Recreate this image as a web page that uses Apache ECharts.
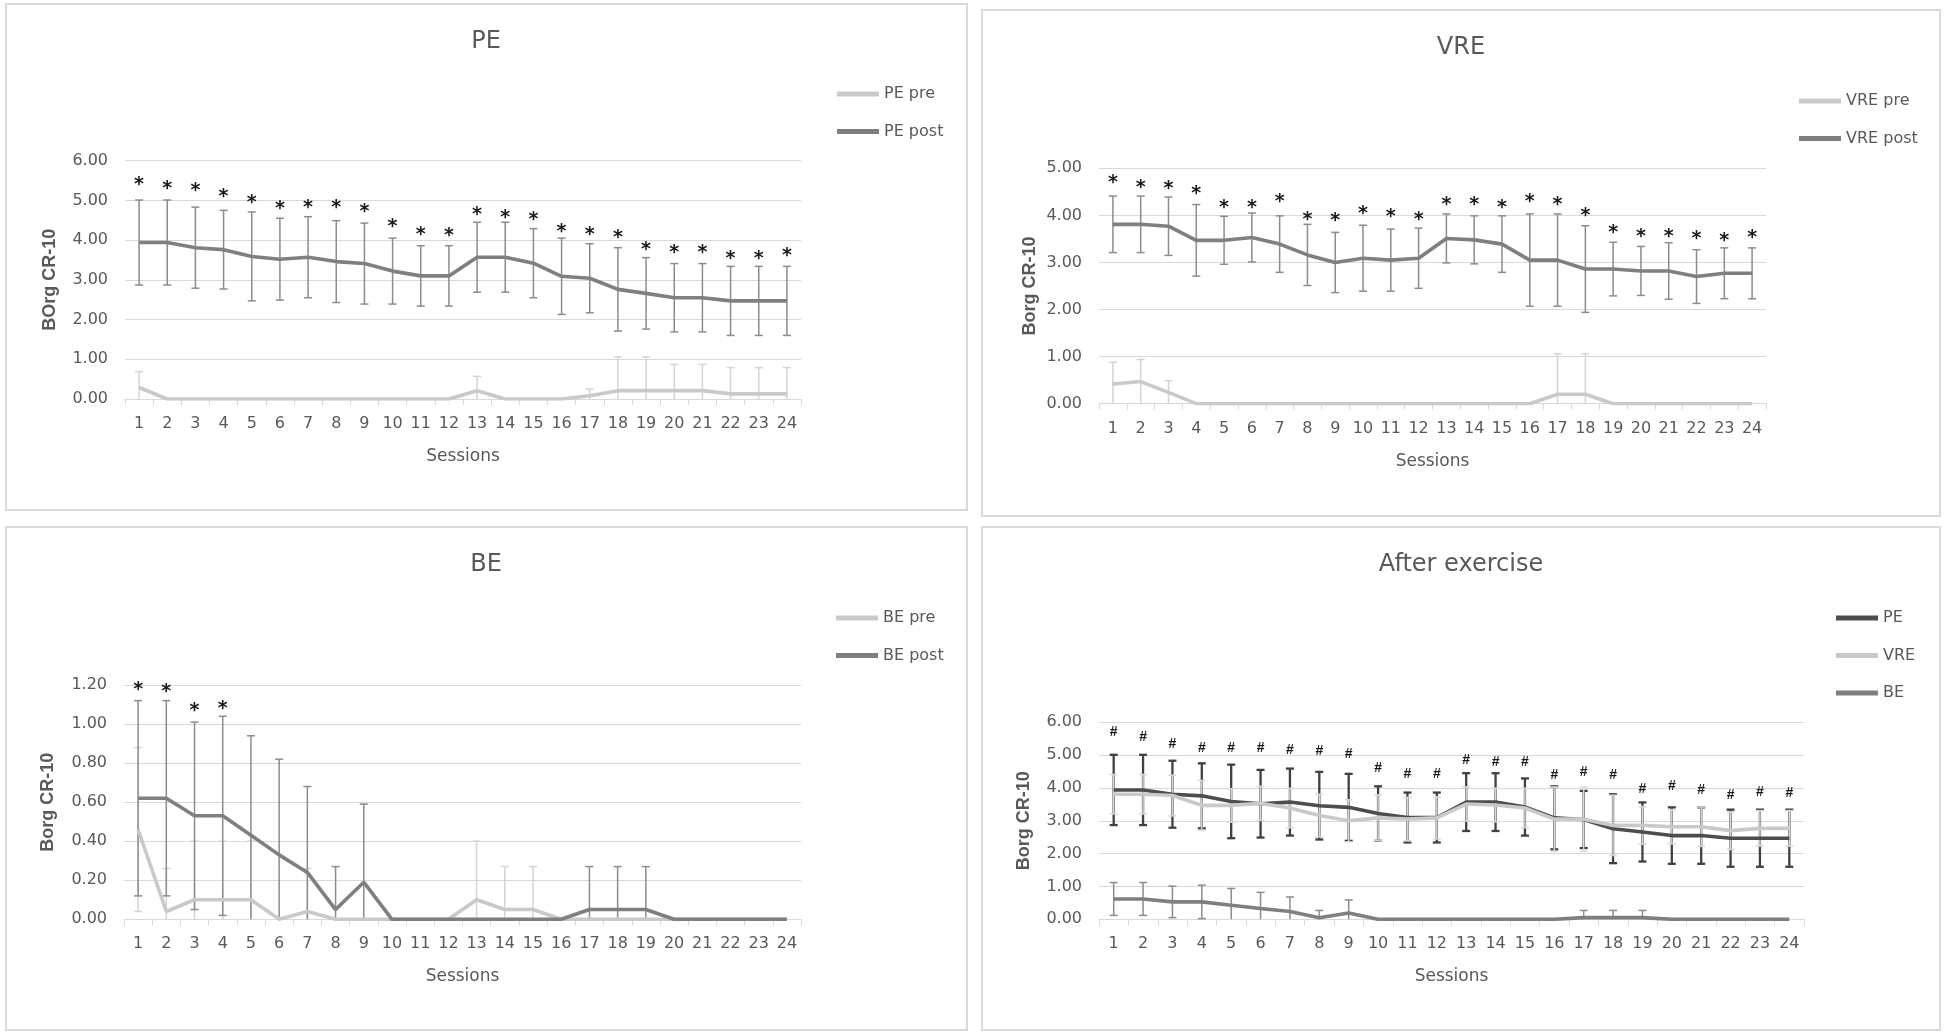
<!DOCTYPE html>
<html lang="en">
<head>
<meta charset="UTF-8">
<title>Borg CR-10 per session</title>
<style>html,body{margin:0;padding:0;background:#fff;}</style>
</head>
<body>
<div id="chart" style="width:1946px;height:1036px;"></div>
<script src="https://cdn.jsdelivr.net/npm/echarts@6/dist/echarts.min.js"></script>
<script>
var sessions = ['1','2','3','4','5','6','7','8','9','10','11','12','13','14','15','16','17','18','19','20','21','22','23','24'];

// means and SD per session
var pePre     = [0.29,0,0,0,0,0,0,0,0,0,0,0,0.21,0,0,0,0.08,0.21,0.21,0.21,0.21,0.13,0.13,0.13];
var pePreSd   = [0.40,0,0,0,0,0,0,0,0,0,0,0,0.36,0,0,0,0.17,0.85,0.85,0.66,0.66,0.66,0.66,0.66];
var pePost    = [3.94,3.94,3.81,3.76,3.59,3.52,3.57,3.46,3.41,3.22,3.10,3.10,3.57,3.57,3.42,3.09,3.04,2.76,2.66,2.55,2.55,2.47,2.47,2.47];
var pePostSd  = [1.07,1.07,1.02,0.99,1.12,1.03,1.02,1.03,1.02,0.83,0.76,0.76,0.88,0.88,0.87,0.96,0.87,1.05,0.90,0.86,0.86,0.87,0.87,0.87];

var vrePre    = [0.42,0.47,0.24,0,0,0,0,0,0,0,0,0,0,0,0,0,0.20,0.20,0,0,0,0,0,0];
var vrePreSd  = [0.46,0.47,0.25,0,0,0,0,0,0,0,0,0,0,0,0,0,0.86,0.86,0,0,0,0,0,0];
var vrePost   = [3.81,3.81,3.77,3.47,3.47,3.53,3.39,3.16,3.00,3.09,3.05,3.09,3.51,3.48,3.39,3.05,3.05,2.86,2.86,2.82,2.82,2.70,2.77,2.77];
var vrePostSd = [0.60,0.60,0.62,0.76,0.51,0.52,0.60,0.65,0.64,0.70,0.66,0.64,0.52,0.51,0.60,0.98,0.98,0.92,0.57,0.52,0.60,0.57,0.54,0.54];

var bePre     = [0.46,0.04,0.10,0.10,0.10,0,0.04,0,0,0,0,0,0.10,0.05,0.05,0,0,0,0,0,0,0,0,0];
var bePreSd   = [0.42,0.22,0.30,0.30,0.30,0,0.22,0,0,0,0,0,0.30,0.22,0.22,0,0,0,0,0,0,0,0,0];
var bePost    = [0.62,0.62,0.53,0.53,0.43,0.33,0.24,0.05,0.19,0,0,0,0,0,0,0,0.05,0.05,0.05,0,0,0,0,0];
var bePostSd  = [0.50,0.50,0.48,0.51,0.51,0.49,0.44,0.22,0.40,0,0,0,0,0,0,0,0.22,0.22,0.22,0,0,0,0,0];

// where the significance marks sit
var peStars   = [5.51,5.41,5.36,5.22,5.07,4.91,4.94,4.94,4.84,4.45,4.25,4.23,4.76,4.69,4.63,4.34,4.25,4.18,3.88,3.80,3.80,3.66,3.66,3.73];
var vreStars  = [4.80,4.68,4.66,4.55,4.26,4.26,4.38,4.01,3.98,4.13,4.06,4.01,4.33,4.33,4.26,4.38,4.33,4.09,3.74,3.65,3.65,3.60,3.56,3.62];
var beStars   = [1.20,1.19,1.09,1.10,null,null,null,null,null,null,null,null,null,null,null,null,null,null,null,null,null,null,null,null];
var hashMarks = [5.70,5.56,5.33,5.20,5.20,5.20,5.14,5.11,5.03,4.59,4.43,4.43,4.84,4.79,4.79,4.39,4.49,4.39,3.97,4.07,3.94,3.77,3.87,3.84];

var TXT = '#595959';
var GRIDC = '#d9d9d9';
var FONT = 'DejaVu Sans';

var myChart = echarts.init(document.getElementById('chart'));

function barData(mean, sd) {
	return mean.map(function (m, i) { return [i, Math.max(0, m - sd[i]), m + sd[i]]; });
}
function markData(arr) {
	var out = [];
	arr.forEach(function (v, i) { if (v != null) out.push([i, v]); });
	return out;
}

function errorBars(name, idx, mean, sd, color, width, cap) {
	return {
		name: name, type: 'custom', xAxisIndex: idx, yAxisIndex: idx,
		encode: {x: 0, y: [1, 2]}, silent: true,
		data: barData(mean, sd),
		renderItem: function (params, api) {
			var lo = api.value(1), hi = api.value(2);
			if (!(hi > lo)) return;
			var t = api.coord([api.value(0), hi]);
			var b = api.coord([api.value(0), lo]);
			var st = {stroke: color, lineWidth: width};
			var kids = [
				{type: 'line', shape: {x1: t[0], y1: t[1], x2: b[0], y2: b[1]}, style: st},
				{type: 'line', shape: {x1: t[0] - cap, y1: t[1], x2: t[0] + cap, y2: t[1]}, style: st}
			];
			if (lo > 0) kids.push({type: 'line', shape: {x1: b[0] - cap, y1: b[1], x2: b[0] + cap, y2: b[1]}, style: st});
			return {type: 'group', children: kids};
		}
	};
}

function marks(name, idx, arr, ch, font, size, weight, dy) {
	return {
		name: name, type: 'custom', xAxisIndex: idx, yAxisIndex: idx,
		encode: {x: 0, y: 1}, silent: true, z: 5,
		data: markData(arr),
		renderItem: function (params, api) {
			var p = api.coord([api.value(0), api.value(1)]);
			return {type: 'text', x: p[0], y: p[1] + dy,
				style: {text: ch, fontFamily: font, fontSize: size, fontWeight: weight, fill: '#1a1a1a', align: 'center', verticalAlign: 'middle'}};
		}
	};
}

function line(name, idx, data, color) {
	return {
		name: name, type: 'line', xAxisIndex: idx, yAxisIndex: idx,
		data: data, symbol: 'none', silent: true,
		lineStyle: {color: color, width: 3.6},
		itemStyle: {color: color}
	};
}

var grids = [
	{left: 125, top: 160.7, width: 676, height: 238.3},
	{left: 1099, top: 168.3, width: 667, height: 235.4},
	{left: 124, top: 685, width: 677, height: 234.3},
	{left: 1099, top: 722.3, width: 705, height: 197}
];
var yMax = [6, 5, 1.2, 6];
var yStep = [1, 1, 0.2, 1];
var yNames = ['BOrg CR-10', 'Borg CR-10', 'Borg CR-10', 'Borg CR-10'];
var yGaps = [66, 60, 67, 66];

var option = {
	backgroundColor: '#fff',
	animation: false,
	grid: grids.map(function (g) { g.outerBoundsMode = 'none'; return g; }),
	xAxis: grids.map(function (g, i) {
		return {
			type: 'category', gridIndex: i, data: sessions,
			axisLine: {lineStyle: {color: GRIDC, width: 1}},
			axisTick: {show: true, length: 6, interval: 0, lineStyle: {color: GRIDC}},
			axisLabel: {interval: 0, margin: 17, color: TXT, fontFamily: FONT, fontSize: 16},
			name: 'Sessions', nameLocation: 'middle', nameGap: 49,
			nameTextStyle: {color: TXT, fontFamily: FONT, fontSize: 17}
		};
	}),
	yAxis: grids.map(function (g, i) {
		return {
			type: 'value', gridIndex: i, min: 0, max: yMax[i], interval: yStep[i],
			axisLine: {show: false}, axisTick: {show: false},
			splitLine: {lineStyle: {color: GRIDC, width: 1}},
			axisLabel: {margin: 17, color: TXT, fontFamily: FONT, fontSize: 16,
				formatter: function (v) { return v.toFixed(2); }},
			name: yNames[i], nameLocation: 'middle', nameRotate: 90, nameGap: yGaps[i],
			nameTextStyle: {color: TXT, fontFamily: 'Liberation Sans', fontSize: 18, fontWeight: 'bold'}
		};
	}),
	legend: [
		{data: ['PE pre', 'PE post'], left: 837, top: 85},
		{data: ['VRE pre', 'VRE post'], left: 1799, top: 92},
		{data: ['BE pre', 'BE post'], left: 836, top: 609},
		{data: ['PE', 'VRE', 'BE'], left: 1836, top: 609}
	].map(function (l) {
		l.orient = 'vertical'; l.icon = 'rect'; l.itemWidth = 42; l.itemHeight = 5;
		l.itemGap = 19.5; l.padding = 0; l.selectedMode = false;
		l.textStyle = {color: TXT, fontFamily: FONT, fontSize: 16, lineHeight: 18};
		return l;
	}),
	graphic: [
		{type: 'rect', shape: {x: 6, y: 4, width: 961, height: 506}, style: {fill: null, stroke: GRIDC, lineWidth: 2}},
		{type: 'rect', shape: {x: 982, y: 10, width: 958, height: 506}, style: {fill: null, stroke: GRIDC, lineWidth: 2}},
		{type: 'rect', shape: {x: 6, y: 527, width: 961, height: 503}, style: {fill: null, stroke: GRIDC, lineWidth: 2}},
		{type: 'rect', shape: {x: 982, y: 527, width: 958, height: 503}, style: {fill: null, stroke: GRIDC, lineWidth: 2}},
		{type: 'text', x: 486, y: 42, style: {text: 'PE', fontFamily: FONT, fontSize: 24, fill: TXT, align: 'center', verticalAlign: 'middle'}},
		{type: 'text', x: 1461, y: 48, style: {text: 'VRE', fontFamily: FONT, fontSize: 24, fill: TXT, align: 'center', verticalAlign: 'middle'}},
		{type: 'text', x: 486, y: 565, style: {text: 'BE', fontFamily: FONT, fontSize: 24, fill: TXT, align: 'center', verticalAlign: 'middle'}},
		{type: 'text', x: 1461, y: 565, style: {text: 'After exercise', fontFamily: FONT, fontSize: 24, fill: TXT, align: 'center', verticalAlign: 'middle'}}
	],
	series: [
		// PE
		errorBars('PE pre sd', 0, pePre, pePreSd, '#d4d4d4', 1.5, 4),
		line('PE pre', 0, pePre, '#c9c9c9'),
		errorBars('PE post sd', 0, pePost, pePostSd, '#8c8c8c', 1.5, 4),
		line('PE post', 0, pePost, '#7f7f7f'),
		marks('PE stars', 0, peStars, '*', FONT, 19, 'bold', 5),
		// VRE
		errorBars('VRE pre sd', 1, vrePre, vrePreSd, '#d4d4d4', 1.5, 4),
		line('VRE pre', 1, vrePre, '#c9c9c9'),
		errorBars('VRE post sd', 1, vrePost, vrePostSd, '#8c8c8c', 1.5, 4),
		line('VRE post', 1, vrePost, '#7f7f7f'),
		marks('VRE stars', 1, vreStars, '*', FONT, 19, 'bold', 5),
		// BE
		errorBars('BE pre sd', 2, bePre, bePreSd, '#d4d4d4', 1.5, 4),
		line('BE pre', 2, bePre, '#c9c9c9'),
		errorBars('BE post sd', 2, bePost, bePostSd, '#8c8c8c', 1.5, 4),
		line('BE post', 2, bePost, '#7f7f7f'),
		marks('BE stars', 2, beStars, '*', FONT, 19, 'bold', 5),
		// after exercise
		errorBars('PE sd', 3, pePost, pePostSd, '#404040', 2.3, 4),
		line('PE', 3, pePost, '#4d4d4d'),
		errorBars('VRE sd', 3, vrePost, vrePostSd, '#d9d9d9', 1.5, 4),
		line('VRE', 3, vrePost, '#c9c9c9'),
		errorBars('BE sd', 3, bePost, bePostSd, '#8c8c8c', 1.5, 4),
		line('BE', 3, bePost, '#7f7f7f'),
		marks('hash marks', 3, hashMarks, '#', 'Liberation Sans', 14, 'bold', 0)
	]
};

myChart.setOption(option);
</script>
</body>
</html>
